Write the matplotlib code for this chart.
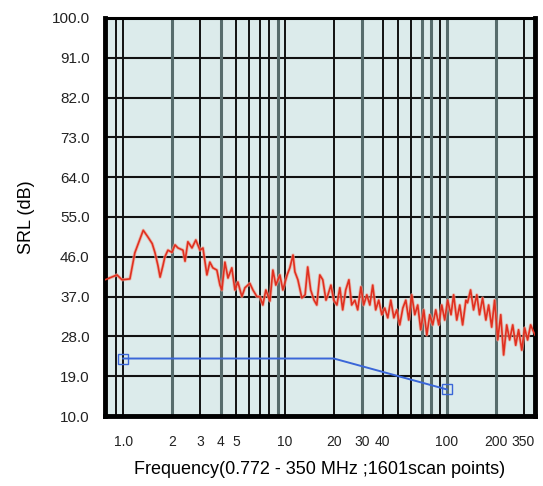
import numpy as np
import matplotlib.pyplot as plt
from matplotlib.ticker import FixedLocator, NullFormatter

'''
DATI LETTI DAL GRAFICO
'''
freq = [0.772, 0.916, 0.983, 1.10, 1.18, 1.33, 1.42, 1.51, 1.57, 1.64, 1.69, 1.76, 1.81, 1.89,
        2.00, 2.09, 2.18, 2.34, 2.41, 2.51, 2.66, 2.81, 2.98, 3.11, 3.29, 3.43, 3.58, 3.79,
        3.96, 4.07, 4.25, 4.44, 4.69, 4.90, 5.11, 5.41, 5.65, 6.06, 6.33, 6.70, 6.99, 7.29,
        7.61, 8.06, 8.41, 8.77, 9.29, 9.69, 10.3, 10.7, 11.2, 11.5, 12.0, 12.7, 13.3, 13.8,
        14.4, 15.1, 15.7, 16.4, 17.1, 17.9, 18.4, 19.2, 20.0, 20.9, 21.8, 22.7, 23.7, 24.8,
        25.8, 27.0, 28.1, 29.4, 30.6, 32.0, 33.4, 34.8, 36.3, 37.9, 39.6, 41.3, 43.1, 45.0,
        47.0, 49.0, 51.1, 53.4, 55.7, 58.1, 60.6, 63.3, 66.0, 68.9, 71.9, 75.1, 78.3, 81.7,
        85.3, 89.0, 92.9, 96.9, 101, 106, 110, 115, 120, 125, 131, 134, 140, 146, 153, 159,
        166, 174, 181, 189, 197, 206, 215, 224, 234, 244, 255, 266, 277, 290, 302, 315, 329,
        350]
srl = [40.8, 41.9, 40.8, 41.0, 46.9, 52.0, 50.5, 49.0, 47.0, 44.0, 41.4, 44.0, 46.0, 47.5,
       47.0, 48.7, 48.0, 47.5, 45.0, 49.4, 48.0, 49.8, 47.5, 48.0, 41.9, 44.8, 43.5, 43.0,
       39.6, 38.5, 44.8, 41.2, 43.5, 38.5, 40.3, 37.0, 39.0, 40.0, 38.5, 37.0, 37.0, 35.1,
       38.5, 36.0, 43.0, 39.6, 41.9, 38.5, 41.9, 43.5, 46.4, 42.6, 40.8, 36.7, 37.4, 43.7,
       38.5, 36.2, 35.1, 41.9, 40.8, 36.2, 37.4, 39.6, 36.2, 35.1, 39.0, 34.0, 38.5, 40.8,
       35.1, 36.2, 34.0, 39.2, 35.1, 37.4, 35.1, 39.6, 34.0, 36.2, 32.9, 34.4, 32.2, 36.2,
       32.2, 34.0, 30.6, 34.4, 36.2, 31.7, 37.4, 32.9, 35.1, 29.5, 34.0, 28.3, 32.9, 30.6,
       34.0, 30.6, 35.1, 31.7, 36.2, 32.9, 37.4, 31.7, 35.1, 30.6, 36.2, 35.6, 38.5, 34.0,
       37.4, 32.9, 36.7, 31.7, 35.1, 30.1, 36.2, 27.2, 32.9, 23.8, 30.6, 27.2, 30.6, 26.0,
       29.5, 24.9, 29.9, 27.2, 30.6, 28.3]

limit_freq = [1.0, 20.0, 100.0]
limit_srl = [23.0, 23.0, 16.0]

yticks = [10, 19, 28, 37, 46, 55, 64, 73, 82, 91, 100]
xticks = [1.0, 2, 3, 4, 5, 10, 20, 30, 40, 100, 200, 350]
xtick_labels = ['1.0', '2', '3', '4', '5', '10', '20', '30', '40', '100', '200', '350']
grid_x = [0.9, 1, 2, 3, 4, 5, 6, 7, 8, 9, 10, 20, 30, 40, 50, 60, 70, 80, 90, 100, 200, 300]
grey_x = [2, 4, 9, 30, 70, 80, 100, 200]

'''
GRAFICO
'''
plt.rcParams['font.family'] = ['Liberation Sans', 'DejaVu Sans']
fig = plt.figure(figsize=(5.43, 4.86), dpi=100)
ax = fig.add_axes([105 / 543, 70 / 486, 430 / 543, 398 / 486])
ax.set_facecolor('#dcebeb')

ax.set_xscale('log')
ax.set_xlim(0.772, 350)
ax.set_ylim(10, 100)

ax.set_yticks(yticks)
ax.set_yticklabels(['%.1f' % v for v in yticks])
ax.set_xticks(xticks)
ax.set_xticklabels(xtick_labels)
ax.xaxis.set_minor_locator(FixedLocator(grid_x))
ax.xaxis.set_minor_formatter(NullFormatter())
ax.tick_params(axis='both', which='both', length=0, colors='#222222')
ax.tick_params(axis='x', labelsize=10, pad=14)
ax.tick_params(axis='y', labelsize=11, pad=11)
ax.get_xticklabels()[-1].set_ha('right')

ax.grid(False)
for v in yticks:
    ax.axhline(v, color='#111111', lw=1.5, zorder=1)
for v in grid_x:
    if v in grey_x:
        ax.axvline(v, color='#576c6c', lw=2.2, zorder=1)
    else:
        ax.axvline(v, color='#111111', lw=1.4, zorder=1)

ax.plot(freq, srl, color='#f0a090', lw=2.4, alpha=0.7, zorder=2)
ax.plot(freq, srl, color='#e03020', lw=1.2, zorder=3)
ax.plot(limit_freq, limit_srl, color='#3a66d8', lw=1.4, marker='s', markersize=7,
        markerfacecolor='none', markeredgecolor='#3a66d8', markevery=[0, 2], zorder=4)

for s in ['left', 'bottom', 'right']:
    ax.spines[s].set_linewidth(3.5)
ax.spines['top'].set_linewidth(2.2)

ax.set_xlabel('Frequency(0.772 - 350 MHz ;1601scan points)', fontsize=13, labelpad=8)
ax.set_ylabel('SRL (dB)', fontsize=13, labelpad=12)

plt.savefig('out.png', dpi=100)
